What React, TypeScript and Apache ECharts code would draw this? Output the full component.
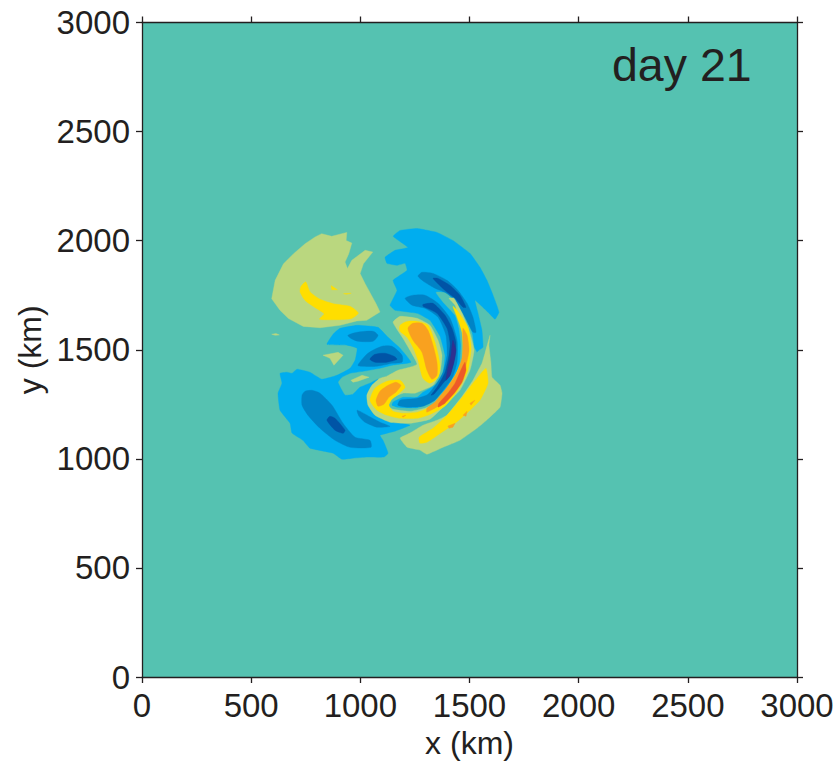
import React, { useEffect, useRef } from "react";
import * as echarts from "echarts";

type Pt = number[];
const dayLabel = "day 21";

const nwGreen: Pt[] = [[823,2032],[869,2020],[938,2038],[935,2001],[961,1989],[947,1940],[930,1902],[941,1872],[961,1910],[1022,1956],[1057,1948],[1014,1894],[999,1849],[1022,1803],[1072,1711],[1090,1673],[1029,1635],[984,1632],[907,1612],[816,1601],[739,1607],[671,1643],[632,1681],[594,1734],[610,1818],[648,1894],[694,1940],[747,1986],[793,2017]];
const nwYellow: Pt[] = [[750,1811],[770,1765],[816,1731],[877,1711],[953,1699],[991,1668],[961,1643],[907,1638],[813,1640],[834,1665],[793,1693],[747,1726],[724,1765],[727,1788]];
const nwSpeck1: Pt[] = [[866,1794],[895,1775],[869,1775]];
const nwSpeck2: Pt[] = [[923,1757],[958,1759],[938,1754]];
const westSpeck: Pt[] = [[594,1571],[614,1574],[629,1568],[610,1566]];

const blueWest: Pt[] = [[632,1392],[664,1397],[687,1392],[710,1411],[769,1397],[824,1365],[893,1383],[953,1415],[976,1452],[985,1507],[939,1521],[847,1525],[875,1571],[907,1598],[985,1612],[1081,1603],[1127,1557],[1182,1507],[1232,1443],[1182,1434],[1145,1429],[1090,1415],[1012,1401],[953,1392],[916,1374],[898,1351],[930,1292],[966,1296],[998,1328],[1044,1347],[1081,1365],[1035,1292],[1044,1255],[1081,1218],[1136,1191],[1195,1163],[1227,1154],[1159,1127],[1090,1108],[1104,1085],[1127,1026],[1108,1008],[1031,1008],[966,1003],[916,998],[875,1026],[769,1049],[737,1085],[687,1118],[678,1163],[632,1223],[623,1301],[641,1347]];
const swMid: Pt[] = [[733,1292],[747,1310],[779,1314],[815,1301],[870,1246],[921,1163],[976,1099],[1044,1085],[1049,1053],[953,1053],[884,1085],[815,1140],[760,1200],[733,1246]];
const swDark: Pt[] = [[847,1177],[861,1195],[884,1186],[930,1131],[921,1117],[884,1131]];
const southMid: Pt[] = [[985,1223],[1031,1200],[1090,1168],[1136,1149],[1076,1145],[1021,1168],[994,1195]];
const westMid1: Pt[] = [[943,1566],[985,1580],[1058,1585],[1081,1566],[1058,1539],[989,1539],[957,1552]];
const westMid2: Pt[] = [[989,1429],[1035,1484],[1099,1516],[1145,1516],[1191,1475],[1191,1443],[1145,1438],[1076,1424],[1012,1424]];
const westDark: Pt[] = [[1044,1456],[1067,1479],[1113,1484],[1154,1470],[1168,1456],[1122,1443],[1067,1443]];
const westGreen1: Pt[] = [[829,1475],[898,1488],[921,1475],[879,1429],[861,1461]];
const westGreen2: Pt[] = [[957,1360],[1008,1383],[1040,1374],[989,1356],[966,1351]];

const blueNorth: Pt[] = [[1150,2020],[1182,2047],[1260,2056],[1351,2038],[1424,2001],[1502,1942],[1548,1878],[1580,1818],[1608,1750],[1635,1672],[1617,1640],[1585,1672],[1525,1727],[1539,1667],[1557,1589],[1562,1511],[1543,1498],[1534,1489],[1493,1443],[1434,1360],[1388,1314],[1328,1260],[1260,1232],[1168,1237],[1145,1246],[1150,1260],[1195,1282],[1260,1282],[1287,1305],[1356,1347],[1379,1397],[1388,1475],[1365,1562],[1319,1635],[1260,1667],[1159,1681],[1136,1704],[1168,1772],[1150,1818],[1214,1864],[1205,1896],[1168,1887],[1122,1896],[1113,1924],[1159,1956],[1218,1969]];
const tealWedge: Pt[] = [[1347,1763],[1397,1759],[1479,1658],[1511,1576],[1521,1511],[1534,1484],[1511,1397],[1456,1305],[1365,1214],[1182,1205],[1168,1227],[1260,1232],[1328,1260],[1388,1314],[1434,1369],[1456,1443],[1461,1521],[1452,1598],[1434,1658],[1379,1718]];
const upperMidArc: Pt[] = [[1264,1837],[1282,1855],[1333,1850],[1397,1818],[1447,1772],[1489,1713],[1516,1649],[1530,1580],[1516,1580],[1479,1649],[1434,1727],[1388,1763],[1342,1782],[1296,1809]];
const upperDarkArc: Pt[] = [[1333,1827],[1356,1827],[1411,1795],[1456,1750],[1484,1695],[1470,1695],[1434,1736],[1388,1772]];
const lowerMidArc: Pt[] = [[1205,1736],[1241,1750],[1296,1750],[1356,1713],[1411,1644],[1443,1543],[1443,1443],[1420,1369],[1379,1314],[1342,1269],[1287,1241],[1214,1237],[1172,1246],[1182,1269],[1260,1278],[1310,1296],[1356,1356],[1379,1397],[1397,1475],[1392,1566],[1356,1649],[1296,1690],[1237,1704]];
const lowerDarkArc: Pt[] = [[1287,1708],[1333,1713],[1388,1658],[1420,1598],[1438,1534],[1434,1475],[1411,1383],[1379,1347],[1337,1296],[1324,1292],[1351,1328],[1388,1397],[1406,1475],[1411,1530],[1397,1598],[1351,1667],[1287,1699]];
const navyCore: Pt[] = [[1424,1543],[1438,1498],[1429,1443],[1411,1383],[1392,1360],[1401,1415],[1415,1475],[1420,1521]];

const seGreen: Pt[] = [[1594,1566],[1589,1521],[1598,1443],[1603,1374],[1640,1337],[1649,1301],[1640,1237],[1603,1200],[1562,1163],[1534,1140],[1456,1085],[1379,1053],[1305,1021],[1273,1040],[1214,1053],[1182,1095],[1227,1118],[1287,1154],[1351,1177],[1397,1200],[1470,1292],[1516,1360],[1557,1438],[1571,1484]];
const centralGreen: Pt[] = [[1150,1626],[1182,1653],[1260,1644],[1319,1612],[1356,1543],[1374,1475],[1365,1397],[1333,1337],[1250,1301],[1195,1301],[1145,1278],[1127,1241],[1150,1227],[1227,1218],[1296,1232],[1356,1260],[1401,1301],[1447,1374],[1470,1452],[1475,1521],[1461,1612],[1434,1704],[1406,1736],[1429,1736],[1470,1658],[1502,1576],[1521,1498],[1502,1406],[1456,1314],[1388,1246],[1319,1182],[1227,1163],[1136,1168],[1067,1200],[1035,1246],[1030,1292],[1053,1337],[1090,1369],[1122,1379],[1172,1406],[1227,1420],[1260,1434],[1227,1498],[1195,1553]];
const lobeYellow: Pt[] = [[1182,1612],[1214,1630],[1264,1630],[1310,1612],[1342,1534],[1365,1429],[1356,1374],[1319,1347],[1287,1369],[1264,1452],[1241,1511],[1214,1557],[1182,1585]];
const lobeOrange: Pt[] = [[1218,1598],[1241,1621],[1282,1621],[1310,1589],[1333,1521],[1351,1443],[1351,1383],[1328,1365],[1305,1406],[1282,1489],[1241,1543]];
const arcYellow: Pt[] = [[1044,1269],[1076,1223],[1122,1200],[1182,1186],[1260,1186],[1310,1200],[1374,1232],[1401,1255],[1447,1314],[1493,1406],[1507,1498],[1507,1521],[1493,1603],[1443,1681],[1424,1699],[1443,1649],[1466,1580],[1470,1507],[1466,1452],[1434,1383],[1397,1324],[1356,1260],[1310,1232],[1260,1214],[1195,1209],[1150,1218],[1131,1246],[1145,1273],[1168,1292],[1205,1328],[1182,1360],[1122,1356],[1067,1324]];
const arcOrange: Pt[] = [[1470,1598],[1489,1566],[1498,1498],[1484,1429],[1452,1347],[1406,1282],[1356,1241],[1305,1214],[1305,1232],[1342,1260],[1379,1305],[1411,1347],[1443,1397],[1466,1461],[1470,1521]];
const arcRed: Pt[] = [[1479,1443],[1484,1406],[1466,1351],[1434,1305],[1388,1255],[1356,1237],[1360,1255],[1401,1301],[1434,1347],[1456,1397]];
const swLobeOrange: Pt[] = [[1072,1269],[1090,1310],[1127,1337],[1163,1351],[1186,1337],[1163,1305],[1131,1282],[1108,1250],[1081,1241]];
const seYellow: Pt[] = [[1576,1415],[1585,1347],[1548,1269],[1493,1214],[1434,1163],[1374,1122],[1305,1076],[1273,1072],[1269,1099],[1333,1140],[1397,1200],[1456,1269],[1516,1347],[1557,1397]];
const seSpeck1: Pt[] = [[1470,1200],[1489,1218],[1484,1195]];
const seSpeck2: Pt[] = [[1401,1150],[1434,1163],[1424,1145],[1406,1140]];
const seSpeck3: Pt[] = [[1502,1255],[1525,1269],[1507,1246]];
const bandSpeck: Pt[] = [[1191,1195],[1209,1200],[1195,1191]];

const TEAL = "#55C2B1", GREEN = "#BAD77F", YELLOW = "#FFDE00", ORANGE = "#F9A11F", RED = "#EE5A28";
const BLUE = "#00ADEF", MID = "#0083C6", DARK = "#0054A6", NAVY = "#2E3190", INK = "#231F20";

const layers: [Pt[], string, number][] = [
  [nwGreen, GREEN, 0], [nwYellow, YELLOW, 0.2], [nwSpeck1, YELLOW, 0], [nwSpeck2, YELLOW, 0], [westSpeck, GREEN, 0],
  [blueWest, BLUE, 0.12], [swMid, MID, 0.2], [swDark, DARK, 0.2], [southMid, MID, 0.2], [westMid1, MID, 0.25], [westMid2, MID, 0.25], [westDark, DARK, 0.25],
  [westGreen1, GREEN, 0], [westGreen2, GREEN, 0],
  [blueNorth, BLUE, 0.1], [tealWedge, TEAL, 0.15], [upperMidArc, MID, 0.2], [upperDarkArc, DARK, 0.2], [lowerMidArc, MID, 0.2], [lowerDarkArc, DARK, 0.2], [navyCore, NAVY, 0.15],
  [seGreen, GREEN, 0.1], [centralGreen, GREEN, 0.15], [lobeYellow, YELLOW, 0.25], [lobeOrange, ORANGE, 0.25], [arcYellow, YELLOW, 0.2], [arcOrange, ORANGE, 0.2], [arcRed, RED, 0.15],
  [swLobeOrange, ORANGE, 0.2], [seYellow, YELLOW, 0.15], [seSpeck1, ORANGE, 0], [seSpeck2, ORANGE, 0], [seSpeck3, ORANGE, 0], [bandSpeck, ORANGE, 0],
];

export default function App() {
  const ref = useRef<HTMLDivElement>(null);
  useEffect(() => {
    const chart = echarts.init(ref.current!, null, { renderer: "svg" });
    const font = "Liberation Sans";
    const common = {
      type: "value" as const, min: 0, max: 3000, interval: 500, z: 5, splitLine: { show: false },
      axisLine: { show: true, onZero: false, lineStyle: { color: INK, width: 1.3 } },
      axisTick: { show: true, inside: false, length: 6, lineStyle: { color: INK, width: 1.3 } },
    };
    const label = { color: INK, fontSize: 33, fontFamily: font, showMinLabel: true, showMaxLabel: true, hideOverlap: false, formatter: (v: number) => String(v) };
    chart.setOption({
      animation: false,
      backgroundColor: "#fff",
      grid: { left: 142, top: 22.5, width: 655, height: 654.5, backgroundColor: TEAL, show: true, borderWidth: 0, outerBoundsMode: "none", containLabel: false },
      xAxis: [
        { ...common, position: "bottom", name: "x (km)", nameLocation: "middle", nameGap: 50, nameTextStyle: { color: INK, fontSize: 32, fontFamily: font }, axisLabel: { ...label, margin: 12 } },
        { ...common, position: "top", axisLabel: { show: false } },
      ],
      yAxis: [
        { ...common, position: "left", name: "y (km)", nameLocation: "middle", nameGap: 95, nameRotate: 90, nameTextStyle: { color: INK, fontSize: 32, fontFamily: font }, axisLabel: { ...label, margin: 12, padding: [2, 0, 0, 0] } },
        { ...common, position: "right", axisLabel: { show: false } },
      ],
      graphic: [{ type: "text", x: 612, y: 41, z: 10, style: { text: dayLabel, fill: INK, font: `46.5px "${font}"` } }],
      series: [{
        type: "custom", coordinateSystem: "cartesian2d", xAxisIndex: 0, yAxisIndex: 0,
        data: layers.map((_, i) => [i]),
        renderItem: (params: any, api: any) => {
          const [shape, color, smooth] = layers[params.dataIndex];
          return { type: "polygon", shape: { points: shape.map((p) => api.coord(p)), smooth }, style: { fill: color, stroke: color, lineWidth: 0.4 } };
        },
      }],
    });
    return () => chart.dispose();
  }, []);
  return <div ref={ref} style={{ position: "absolute", left: 0, top: 0, width: 837, height: 762 }} />;
}
